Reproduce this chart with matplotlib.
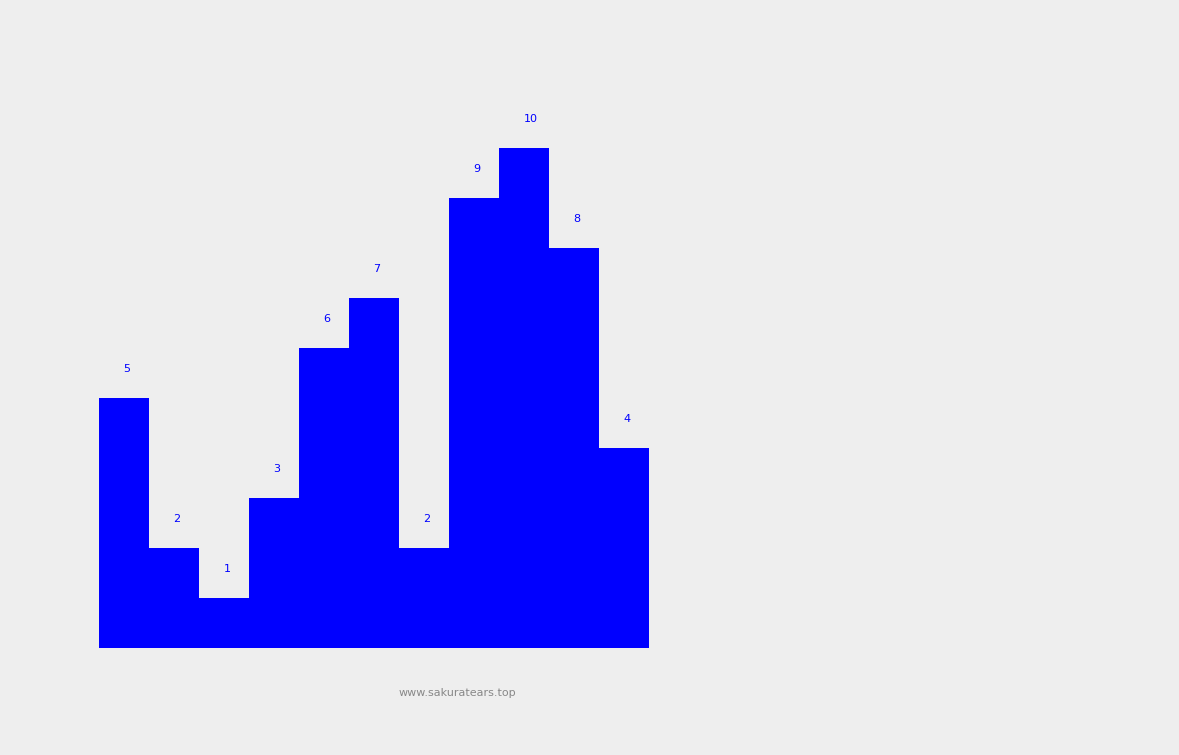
import matplotlib
matplotlib.use("Agg")
import matplotlib.pyplot as plt

values = [5, 2, 1, 3, 6, 7, 2, 9, 10, 8, 4]
positions = list(range(len(values)))
watermark = "www.sakuratears.top"

fig = plt.figure(figsize=(11.79, 7.55), dpi=100)
fig.patch.set_facecolor("#eeeeee")

# axes placed so that bars span px 99..649 and baseline sits at y=648
ax = fig.add_axes([99 / 1179, 107 / 755, 550 / 1179, 500 / 755])
ax.set_facecolor("#eeeeee")
ax.bar(positions, values, width=1.0, align="edge", color="#0000ff", linewidth=0)
ax.set_xlim(0, len(values))
ax.set_ylim(0, 10)
ax.axis("off")

# labels start at the bar centre
for x, v in zip(positions, values):
    ax.text(x + 0.49, v + 0.58, str(v), ha="left", va="center",
            color="#0000ff", fontsize=8, clip_on=False)

fig.text(457 / 1179, 1 - 693 / 755, watermark, ha="center", va="center",
         color="#888888", fontsize=8)

fig.savefig("out.png", dpi=100, facecolor=fig.get_facecolor())
